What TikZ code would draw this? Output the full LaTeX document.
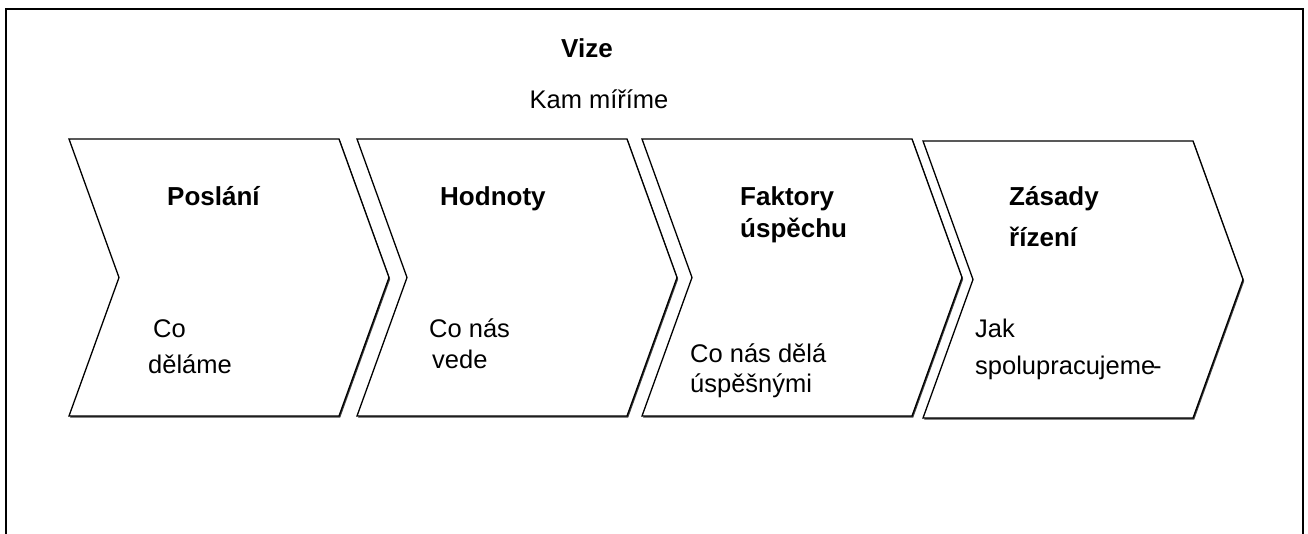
\documentclass[tikz,border=0pt]{standalone}
\usepackage{fontspec}
\setmainfont{Liberation Sans}
\usetikzlibrary{shadows}
\begin{document}
\begin{tikzpicture}[x=1pt,y=-1pt,
  chev/.style={draw=black,line width=1.3pt,fill=white,line join=miter,
    drop shadow={shadow xshift=1.2pt,shadow yshift=-1.6pt,fill=black!75,opacity=1}},
  ttl/.style={inner sep=0pt,anchor=base west,font=\fontsize{26}{30}\selectfont\bfseries},
  txt/.style={inner sep=0pt,anchor=base west,font=\fontsize{25.5}{30}\selectfont},
  frame/.style={draw=black,line width=1.8pt}]
\useasboundingbox (0,0) rectangle (1308,533);
% outer frame (open at bottom)
\draw[frame] (6,534) -- (6,9) -- (1303,9) -- (1303,534);
% chevrons
\foreach \x/\t/\b/\m in {69/139/416/277.5, 357/139/416/277.5, 642/139/416/277.5, 923/141/418/279.5}{
  \path[chev] (\x,\t) -- ++(270,0) -- (\x+320,\m) -- (\x+270,\b) -- (\x,\b) -- (\x+50,\m) -- cycle;
}
% texts
\node[ttl,anchor=base] (vize) at (587,57) {Vize};
\node[txt,anchor=base] (kam) at (599,108) {Kam míříme};
\node[ttl] (posl) at (167,205) {Poslání};
\node[txt] (co1) at (153,337) {Co};
\node[txt] (del) at (148,373) {děláme};
\node[ttl] (hodn) at (440,205) {Hodnoty};
\node[txt] (co2) at (429,337) {Co nás};
\node[txt] (vede) at (432,368) {vede};
\node[ttl] (fakt) at (740,205) {Faktory};
\node[ttl] (usp) at (740,237) {úspěchu};
\node[txt] (co3) at (690,362) {Co nás dělá};
\node[txt] (uspn) at (690,392) {úspěšnými};
\node[ttl] (zas) at (1009,205) {Zásady};
\node[ttl] (riz) at (1009,246) {řízení};
\node[txt] (jak) at (975,337) {Jak};
\node[txt] (spol) at (975,374) {spolupracujeme\kern-2pt-};
\end{tikzpicture}
\end{document}
